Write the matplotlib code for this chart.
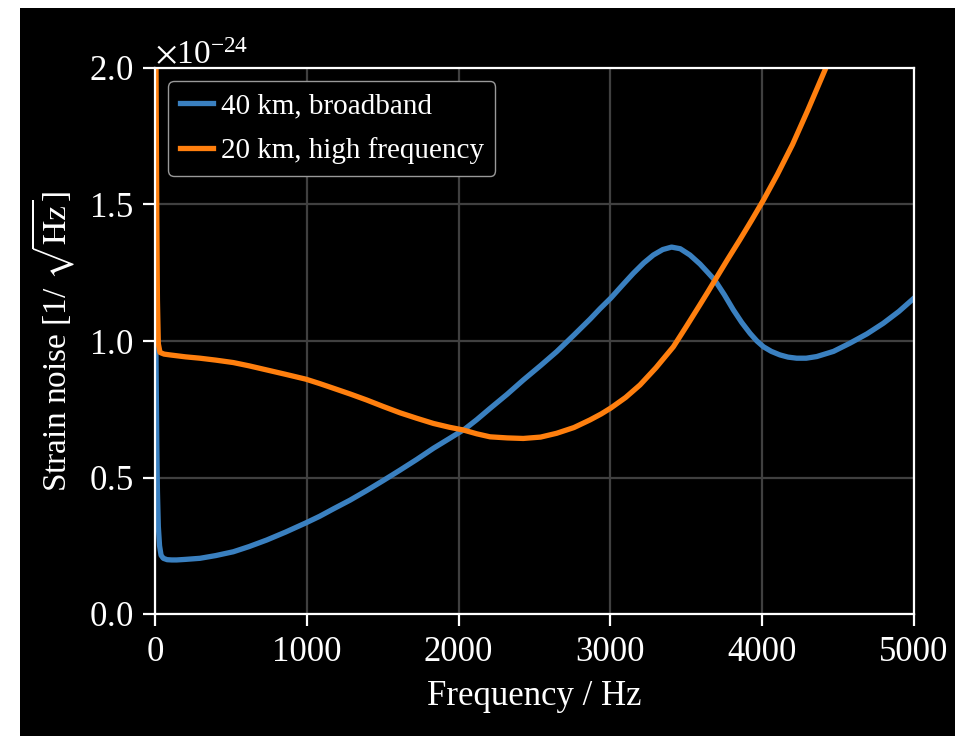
import matplotlib
matplotlib.use("Agg")
import matplotlib.pyplot as plt
from matplotlib.patches import Rectangle

plt.rcParams['font.family'] = ['Liberation Serif', 'DejaVu Serif']
plt.rcParams['mathtext.fontset'] = 'stix'

# Frequency (Hz) and strain noise (units of 1e-24 / sqrt(Hz))
freq_40km = [5, 8, 12, 16, 22, 30, 40, 55, 80, 110, 143, 200, 296, 400, 516, 620,
             736, 860, 995, 1085, 1175, 1285, 1394, 1504, 1614, 1724, 1834, 1940,
             2042, 2120, 2207, 2320, 2426, 2540, 2646, 2760, 2866, 2931, 3004,
             3080, 3151, 3220, 3283, 3345, 3403, 3460, 3524, 3590, 3640, 3689,
             3750, 3810, 3865, 3920, 3965, 4008, 4060, 4117, 4170, 4227, 4290,
             4359, 4470, 4578, 4690, 4798, 4900, 5000]
noise_40km = [1.05, 0.85, 0.62, 0.45, 0.32, 0.25, 0.215, 0.204, 0.199, 0.198, 0.198,
              0.200, 0.204, 0.214, 0.228, 0.247, 0.271, 0.300, 0.334, 0.358, 0.385,
              0.417, 0.452, 0.489, 0.527, 0.566, 0.607, 0.643, 0.678, 0.712, 0.753,
              0.805, 0.857, 0.910, 0.961, 1.022, 1.080, 1.118, 1.158, 1.205, 1.248,
              1.286, 1.315, 1.335, 1.344, 1.338, 1.315, 1.282, 1.252, 1.222, 1.170,
              1.114, 1.068, 1.028, 1.000, 0.979, 0.962, 0.949, 0.941, 0.937, 0.937,
              0.943, 0.962, 0.992, 1.026, 1.065, 1.108, 1.157]

freq_20km = [5, 8, 12, 16, 22, 33, 60, 99, 200, 296, 400, 516, 620, 736, 860, 995,
             1085, 1175, 1285, 1394, 1504, 1614, 1724, 1834, 1940, 2031, 2120, 2207,
             2320, 2426, 2540, 2646, 2760, 2866, 2940, 3004, 3100, 3195, 3300, 3415,
             3500, 3590, 3640, 3689, 3770, 3854, 3930, 4008, 4100, 4200, 4300, 4400,
             4450]
noise_20km = [2.20, 1.85, 1.45, 1.15, 0.99, 0.958, 0.952, 0.949, 0.942, 0.937, 0.930,
              0.921, 0.909, 0.894, 0.878, 0.860, 0.844, 0.827, 0.806, 0.784, 0.760,
              0.737, 0.717, 0.698, 0.684, 0.674, 0.660, 0.649, 0.645, 0.643, 0.648,
              0.662, 0.683, 0.711, 0.733, 0.755, 0.793, 0.839, 0.902, 0.979, 1.053,
              1.133, 1.178, 1.223, 1.297, 1.372, 1.442, 1.516, 1.610, 1.720, 1.845,
              1.975, 2.040]

labels = ["40 km, broadband", "20 km, high frequency"]
scale = 1e-24

fig = plt.figure(figsize=(9.55, 7.36), dpi=100, facecolor='white')
fig.patches.append(Rectangle((20/955, 0), 1, 1 - 8/736, transform=fig.transFigure,
                             facecolor='black', edgecolor='none', zorder=-10))
ax = fig.add_axes([155/955, 1 - 614/736, (914-155)/955, (614-68)/736])
ax.set_facecolor('black')

ax.plot(freq_40km, [v*scale for v in noise_40km], color='#3a80c0', lw=3.8,
        label=labels[0], solid_joinstyle='round')
ax.plot(freq_20km, [v*scale for v in noise_20km], color='#ff7f0e', lw=3.8,
        label=labels[1], solid_joinstyle='round')

ax.set_xlim(0, 5000)
ax.set_ylim(0, 2e-24)
ax.ticklabel_format(axis='y', style='sci', scilimits=(0, 0), useMathText=True)
ax.set_xticks([0, 1000, 2000, 3000, 4000, 5000])
ax.set_yticks([0, 0.5e-24, 1.0e-24, 1.5e-24, 2.0e-24])
ax.grid(True, color='#404040', lw=1.6)
ax.set_axisbelow(True)
for s in ax.spines.values():
    s.set_color('white')
    s.set_linewidth(1.6)
ax.tick_params(colors='white', labelsize=25, width=1.6, length=8.5, pad=7)
ax.yaxis.get_offset_text().set_color('white')
ax.yaxis.get_offset_text().set_fontsize(24)
ax.set_xlabel('Frequency / Hz', color='white', fontsize=25, labelpad=8)
ax.set_ylabel(r'Strain noise [1/ $\sqrt{\mathrm{Hz}}$]', color='white', fontsize=24,
              labelpad=9)

leg = ax.legend(loc='upper left', fontsize=21, facecolor='black', edgecolor='#999999',
                framealpha=1, handlelength=1.15, handletextpad=0.25, labelspacing=0.62,
                borderaxespad=0.45)
for t in leg.get_texts():
    t.set_color('white')

fig.savefig('out.png', dpi=100, facecolor='white')
